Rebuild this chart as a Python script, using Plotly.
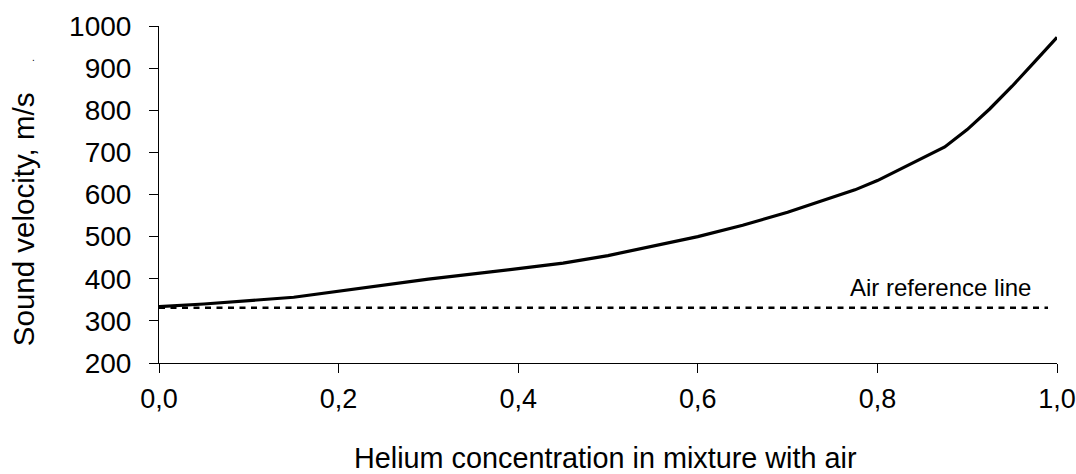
import plotly.graph_objects as go

# Data
helium_fraction = [0.0, 0.05, 0.15, 0.2, 0.3, 0.4, 0.45, 0.5, 0.6, 0.65, 0.7,
                   0.775, 0.8, 0.875, 0.9, 0.925, 0.95, 0.975, 1.0]
sound_velocity = [334, 340, 356, 370, 399, 424, 437, 455, 500, 527, 558,
                  611, 633, 713, 754, 803, 857, 915, 973]

air_ref_x = [0.0, 0.99]
air_ref_y = [331, 331]

x_tickvals = [0.0, 0.2, 0.4, 0.6, 0.8, 1.0]
x_ticktext = ["0,0", "0,2", "0,4", "0,6", "0,8", "1,0"]
y_tickvals = [200, 300, 400, 500, 600, 700, 800, 900, 1000]

FONT = "Liberation Sans, Arial, sans-serif"

fig = go.Figure()
fig.add_trace(go.Scatter(x=air_ref_x, y=air_ref_y, mode="lines",
                         line=dict(color="black", width=2.4, dash="6px,5.5px"),
                         showlegend=False, hoverinfo="skip"))
fig.add_trace(go.Scatter(x=helium_fraction, y=sound_velocity, mode="lines",
                         line=dict(color="black", width=3.2),
                         showlegend=False))

fig.update_layout(
    template="none",
    width=1076, height=474,
    margin=dict(l=159, r=19, t=26, b=111, autoexpand=False),
    paper_bgcolor="white", plot_bgcolor="white",
    font=dict(family=FONT, color="black"),
    xaxis=dict(range=[0, 1], tickvals=x_tickvals, ticktext=x_ticktext,
               automargin=False,
               showgrid=False, zeroline=False, showline=True,
               linecolor="black", linewidth=1,
               ticks="outside", ticklen=9, tickcolor="black", tickwidth=1,
               ticklabelstandoff=3,
               tickfont=dict(size=27, family=FONT, color="black"),
               fixedrange=True),
    yaxis=dict(range=[200, 1000], tickvals=y_tickvals,
               automargin=False,
               showgrid=False, zeroline=False, showline=True,
               linecolor="black", linewidth=1,
               ticks="outside", ticklen=9, tickcolor="black", tickwidth=1,
               ticklabelstandoff=12,
               tickfont=dict(size=28, family=FONT, color="black"),
               fixedrange=True),
    annotations=[
        dict(text="Helium concentration in mixture with air",
             xref="paper", yref="paper", x=0.497, y=-0.282,
             xanchor="center", yanchor="middle", showarrow=False,
             font=dict(size=28.8, family=FONT, color="black")),
        dict(text="Sound velocity, m/s", textangle=-90,
             xref="paper", yref="paper", x=-0.1514, y=0.427,
             xanchor="center", yanchor="middle", showarrow=False,
             font=dict(size=29.5, family=FONT, color="black")),
        dict(text="Air reference line",
             xref="paper", yref="paper", x=(1033 - 159) / 898, y=(363 - 287) / 337,
             xanchor="right", yanchor="middle", showarrow=False,
             font=dict(size=24, family=FONT, color="black")),
        dict(text=".", xref="paper", yref="paper",
             x=(33 - 159) / 898, y=(363 - 58) / 337,
             xanchor="center", yanchor="middle", showarrow=False,
             font=dict(size=10, family=FONT, color="black")),
    ],
)

fig.write_html("out.html")
